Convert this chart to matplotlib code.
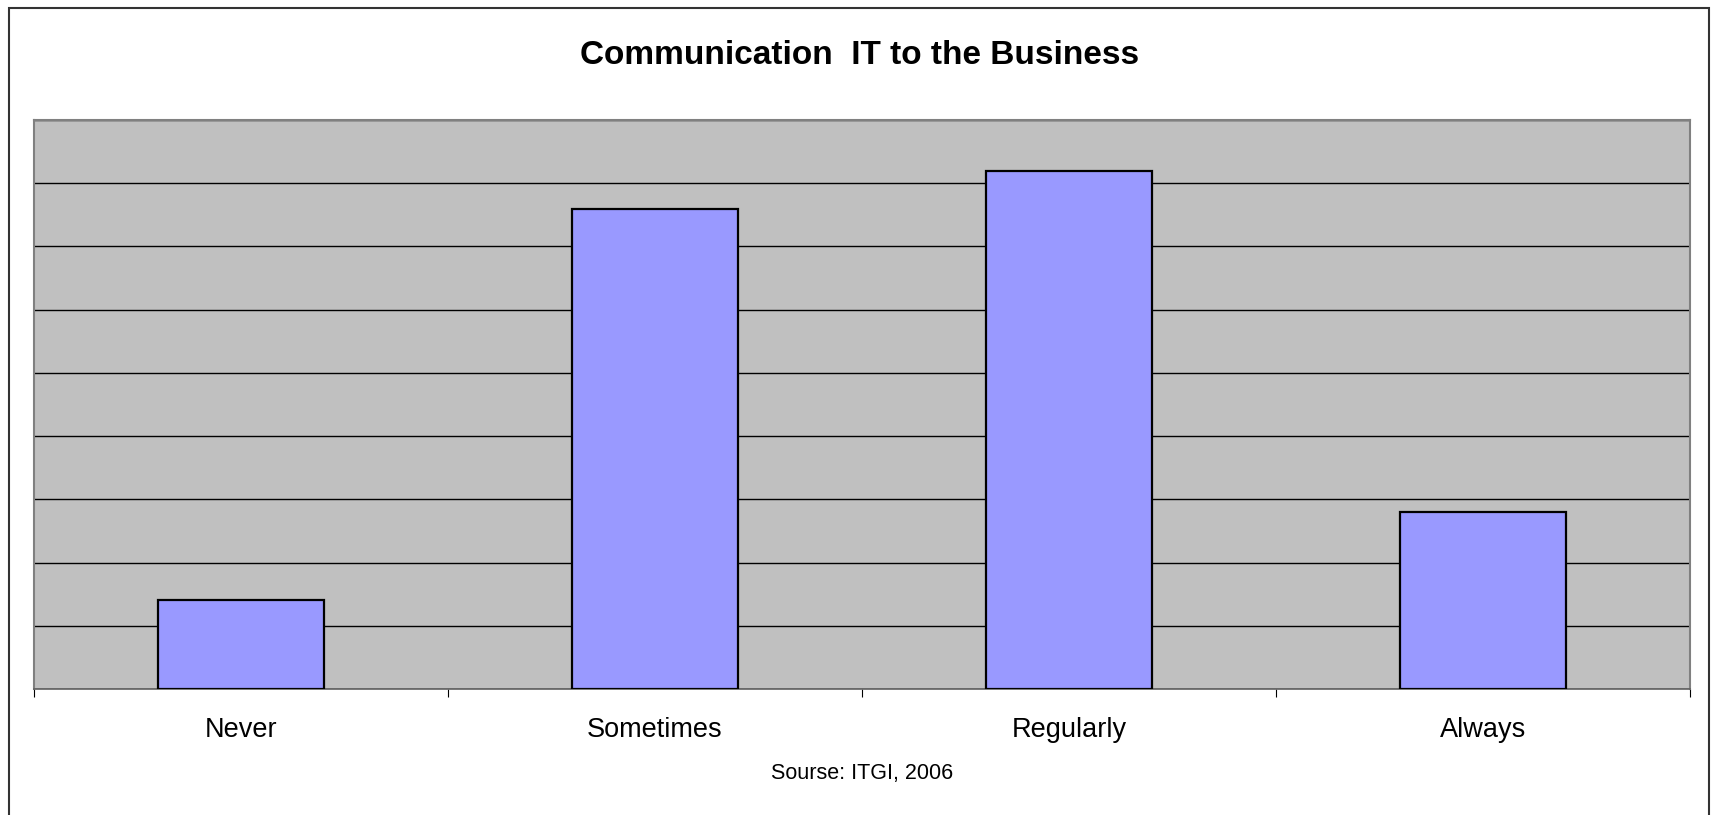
import numpy as np
import matplotlib.pyplot as plt
from matplotlib.patches import Rectangle

# Datos
categorias = ['Never', 'Sometimes', 'Regularly', 'Always']
valores = [7, 38, 41, 14]
titulo = 'Communication  IT to the Business'
fuente = 'Sourse: ITGI, 2006'

plt.rcParams['font.family'] = ['Liberation Sans', 'DejaVu Sans']

fig = plt.figure(figsize=(17.14, 8.15), dpi=100)
W, H = 1714, 815

# Marco exterior del gráfico
fig.patches.append(Rectangle((9 / W, -0.05), 1700 / W, 1.05 - 8 / H,
                             transform=fig.transFigure, fill=False,
                             edgecolor='#333333', linewidth=1.5))

ax = fig.add_axes([34 / W, 1 - 689 / H, 1656 / W, 569 / H])
ax.set_facecolor('#C0C0C0')

x = np.arange(len(categorias))
ax.bar(x, valores, width=0.40, color='#9999FF', edgecolor='black',
       linewidth=1.6, zorder=3)

ax.set_xlim(-0.5, len(categorias) - 0.5)
ax.set_ylim(0, 45)
ax.set_yticks(np.arange(0, 46, 5))
ax.yaxis.grid(True, color='black', linewidth=1.0, zorder=1)
ax.set_axisbelow(True)
ax.tick_params(axis='y', left=False, labelleft=False)

# Marcas del eje x en los límites de categoría, etiquetas centradas
ax.set_xticks(np.arange(-0.5, len(categorias)), minor=False)
ax.set_xticklabels([])
ax.set_xticks(x, minor=True)
ax.set_xticklabels(categorias, minor=True, fontsize=19.5)
ax.tick_params(axis='x', which='major', direction='out', length=6,
               width=0.8, color='black')
ax.tick_params(axis='x', which='minor', length=0, pad=20)

for lado in ['top', 'left', 'right']:
    ax.spines[lado].set_color('#808080')
    ax.spines[lado].set_linewidth(1.5)
ax.spines['bottom'].set_color('#606060')
ax.spines['bottom'].set_linewidth(1.2)

fig.text(860 / W, 1 - 55 / H, titulo, ha='center', va='center',
         fontsize=24, fontweight='bold')
fig.text(862 / W, 1 - 774 / H, fuente, ha='center', va='center', fontsize=15.5)

plt.savefig('out.png', dpi=100)
